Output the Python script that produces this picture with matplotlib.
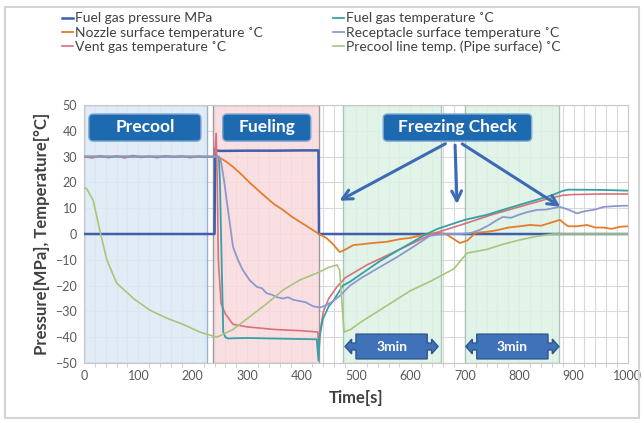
import numpy as np
import matplotlib
matplotlib.use("Agg")
import matplotlib.pyplot as plt
from matplotlib.patches import FancyBboxPatch, Polygon, Rectangle

plt.rcParams['font.family'] = ['Lato', 'DejaVu Sans']

# =========================
# data
# =========================
t_press = [0, 240, 241, 243, 250, 300, 350, 400, 431, 432, 1000]
v_press = [0, 0, 33, 32.4, 32.2, 32.3, 32.3, 32.4, 32.4, 0, 0]

t_nozzle = [0, 15, 30, 45, 60, 75, 90, 105, 120, 135, 150, 165, 180, 195, 210, 225, 240, 250,
            262, 274, 290, 305, 320, 336, 350, 366, 380, 397, 410, 421, 432, 446, 458, 470, 476,
            485, 495, 510, 530, 557, 580, 600, 620, 650, 665, 680, 691, 705, 720, 740, 760, 780,
            801, 820, 840, 860, 875, 882, 890, 906, 925, 940, 955, 970, 985, 1000]
v_nozzle = [30, 29.5, 30.3, 29.6, 30.2, 29.5, 30.4, 29.7, 30.1, 29.6, 30.3, 29.8, 30.2, 29.6, 30.1, 29.8, 30, 29.5,
            28, 26, 23, 19.8, 17, 14, 11.5, 9.3, 7, 4.7, 3, 1.5, 0, -1.6, -4, -7, -6.5,
            -5.5, -4.3, -4, -3.5, -3, -2, -1.5, -0.5, 0.5, 0, -2, -3.5, -2.5, 0.5, 0.8, 1.5, 2.5,
            3, 3.5, 3.2, 4.5, 5.5, 4.2, 3, 3, 3.5, 2.5, 2.5, 2, 2.8, 3]

t_vent = [0, 240, 243, 245, 247, 252, 260, 274, 300, 350, 400, 430, 432, 434, 440, 450, 465, 480,
          520, 560, 600, 640, 700, 750, 800, 850, 880, 900, 950, 1000]
v_vent = [30, 30, 39, 20, -10, -27, -31, -35, -36, -37, -37.5, -38, -46, -38, -30, -25, -20.5, -17,
          -12, -8, -4, 0, 4, 7.5, 10.5, 13.5, 15, 15.3, 15.5, 15.5]

t_fuel = [0, 248, 250, 253, 256, 260, 265, 275, 300, 350, 400, 428, 431, 433, 439, 450, 458, 476,
          489, 513, 544, 580, 605, 625, 650, 700, 740, 780, 820, 860, 880, 890, 950, 1000]
v_fuel = [30, 30, 20, -10, -38, -40, -40.5, -40.4, -40.3, -40.5, -40.7, -40.8, -49, -40, -33, -28, -26, -20,
          -18.5, -15, -10.5, -6, -3, -0.5, 2, 5.5, 7.4, 10, 12.5, 15, 16.7, 17.2, 17.1, 16.8]

t_recep = [0, 248, 252, 258, 263, 274, 283, 292, 305, 318, 327, 336, 345, 355, 366, 375, 385, 397,
           408, 421, 434, 446, 458, 470, 489, 510, 544, 575, 605, 636, 660, 690, 710, 728, 745, 760,
           770, 785, 800, 815, 832, 850, 875, 890, 906, 920, 940, 955, 975, 1000]
v_recep = [30, 30, 28, 20, 12, -5, -10, -14, -18, -20.5, -21, -23, -23.5, -24.5, -25, -24.5, -25.5, -26,
           -26.5, -28, -28.5, -27.5, -26, -24, -20, -17, -12.8, -9, -5, -0.7, 0, 0, 0.3, 1.6, 3.5, 5.5,
           6.6, 6.3, 7.5, 8.5, 9.3, 9.5, 10.5, 9.5, 8, 8.8, 9.5, 10.5, 10.8, 11]

t_precool = [0, 5, 17, 29, 42, 60, 91, 121, 152, 182, 213, 244, 274, 305, 336, 366, 397, 430, 449,
             465, 470, 478, 490, 510, 540, 570, 600, 640, 680, 704, 740, 770, 801, 830, 862, 900, 1000]
v_precool = [18, 17.5, 13, 1.5, -10, -19, -25, -29.5, -32.6, -35, -38, -40, -37, -32, -27, -21.7, -17.8, -15, -13,
             -12, -14, -38, -37, -34, -30, -26, -22, -18, -13.5, -7.4, -6, -4, -2.3, -1, 0, 0, 0]

series = [
    ("Fuel gas pressure MPa", t_press, v_press, "#3F5FAA", 1.8),
    ("Nozzle surface temperature \u02daC", t_nozzle, v_nozzle, "#E37D2B", 1.3),
    ("Vent gas temperature \u02daC", t_vent, v_vent, "#D9717C", 1.2),
    ("Fuel gas temperature \u02daC", t_fuel, v_fuel, "#35A0A6", 1.3),
    ("Receptacle surface temperature \u02daC", t_recep, v_recep, "#8E98D0", 1.3),
    ("Precool line temp. (Pipe surface) \u02daC", t_precool, v_precool, "#A8C57E", 1.2),
]

# phases: (start, end, face colour, edge colour)
phases = [(0, 226, "#DCE9F6", "#8FA6C0"),
          (237, 432, "#FADADD", "#8A8A8A"),
          (476, 656, "#DDF1E5", "#9DBFAE"),
          (700, 873, "#DDF1E5", "#9DBFAE")]

labels = [("Precool", 9, 215), ("Fueling", 255, 417), ("Freezing Check", 550, 823)]
three_min = [(480, 651), (702, 873)]

# =========================
fig = plt.figure(figsize=(6.44, 4.23), dpi=100)
fig.patches.append(Rectangle((0.008, 0.012), 0.985, 0.972, transform=fig.transFigure,
                             fill=False, ec="#D4D4D4", lw=1.5))
ax = fig.add_axes([0.1304, 0.1418, 0.8447, 0.61])

for x0, x1, fc, ec in phases:
    ax.axvspan(x0, x1, facecolor=fc, edgecolor=ec, lw=1.0, alpha=0.85, zorder=0.8)

handles = []
for name, t, v, c, lw in series:
    h, = ax.plot(t, v, color=c, lw=lw, label=name, zorder=3)
    handles.append(h)

ax.set_xlim(0, 1000)
ax.set_ylim(-50, 50)
ax.set_xticks(np.arange(0, 1001, 100))
ax.set_xticks(np.arange(0, 1001, 20), minor=True)
ax.set_yticks(np.arange(-50, 51, 10))
ax.grid(True, which="both", axis="x", color="#D9D9D9", lw=0.8)
ax.grid(True, which="major", axis="y", color="#D9D9D9", lw=0.8)
ax.set_axisbelow(True)
for s in ax.spines.values():
    s.set_color("#C8C8C8")
ax.tick_params(which="both", length=0, labelsize=9, colors="#595959", pad=5)
ax.tick_params(axis="x", which="minor", length=3, color="#C8C8C8")

ax.set_xlabel("Time[s]", fontsize=12, fontweight="bold", color="#404040", labelpad=6)
ax.set_ylabel("Pressure[MPa], Temperature[\u00b0C]", fontsize=12, fontweight="bold",
              color="#404040", labelpad=4)

# phase label boxes
asp = (1 / 2.58) / (1 / 0.544)
for txt, x0, x1 in labels:
    box = FancyBboxPatch((x0, 36), x1 - x0, 10.5,
                         boxstyle="round,pad=0,rounding_size=8", mutation_aspect=asp,
                         fc="#1E6AB0", ec="#7FA8D3", lw=1.0, zorder=5)
    ax.add_patch(box)
    ax.text((x0 + x1) / 2, 41.3, txt, ha="center", va="center", color="white",
            fontsize=12.5, fontweight="bold", zorder=6)

# arrows from "Freezing Check"
arrow_kw = dict(arrowstyle="->,head_length=0.7,head_width=0.35", color="#3C6BB5", lw=2.2)
ax.annotate("", xy=(465, 12.4), xytext=(669, 35.5), arrowprops=arrow_kw, zorder=6)
ax.annotate("", xy=(686, 10.5), xytext=(682, 35.5), arrowprops=arrow_kw, zorder=6)
ax.annotate("", xy=(880, 10), xytext=(691, 35.5), arrowprops=arrow_kw, zorder=6)


def darrow(xl, xr, yc, hgt):
    a, s = 20, 8
    bl, br = xl + a, xr - a
    H, sh, hh = hgt / 2, hgt * 0.14, hgt * 0.3
    return [(bl, yc + H), (br, yc + H), (br, yc + sh), (br + s, yc + sh), (br + s, yc + hh),
            (xr, yc), (br + s, yc - hh), (br + s, yc - sh), (br, yc - sh), (br, yc - H),
            (bl, yc - H), (bl, yc - sh), (bl - s, yc - sh), (bl - s, yc - hh), (xl, yc),
            (bl - s, yc + hh), (bl - s, yc + sh), (bl, yc + sh)]


for x0, x1 in three_min:
    ax.add_patch(Polygon(darrow(x0, x1, -43.6, 9.6), closed=True, fc="#3F72B9",
                         ec="#2F558F", lw=1.0, zorder=5))
    ax.text((x0 + x1) / 2, -43.6, "3min", ha="center", va="center", color="white",
            fontsize=10, fontweight="bold", zorder=6)

fig.legend(handles=handles, loc="upper left", bbox_to_anchor=(0.077, 1.0), ncol=2,
           frameon=False, fontsize=10, handlelength=0.8, handletextpad=0.15,
           columnspacing=5.0, labelspacing=0.15, labelcolor="#404040")

fig.savefig("out.png", dpi=100)
